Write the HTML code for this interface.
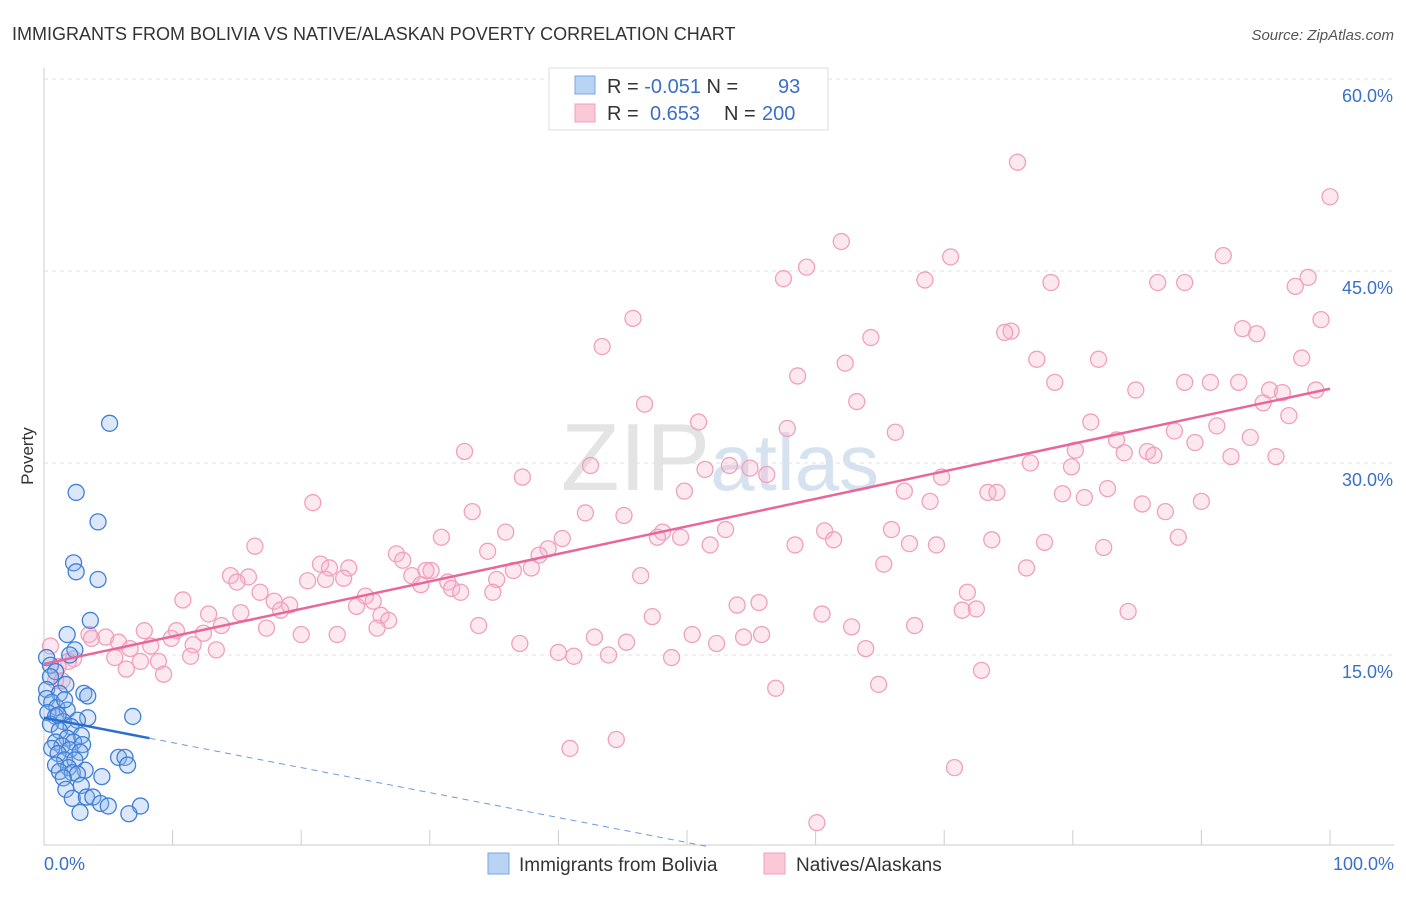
<!DOCTYPE html>
<html><head><meta charset="utf-8"><style>
body{margin:0;background:#fff;font-family:"Liberation Sans",sans-serif;}
svg text{font-family:"Liberation Sans",sans-serif;}
</style></head><body>
<svg id="c" width="1406" height="892" viewBox="0 0 1406 892">
<text x="12" y="40" font-size="18" fill="#333">IMMIGRANTS FROM BOLIVIA VS NATIVE/ALASKAN POVERTY CORRELATION CHART</text>
<text x="1394" y="40" font-size="15" fill="#555" font-style="italic" text-anchor="end">Source: ZipAtlas.com</text>
<text x="720" y="490" font-size="96" fill="#e4e4e4" text-anchor="middle" font-family="Liberation Serif">ZIP<tspan fill="#d6e2f0" font-family="Liberation Sans" font-size="80">atlas</tspan></text>
<text x="33" y="456" font-size="17" fill="#333" text-anchor="middle" transform="rotate(-90 33 456)">Poverty</text>
<g id="grid"></g><g id="pts"></g><g id="trend"></g>
<g>
<rect x="549" y="68" width="279" height="62" fill="#fff" stroke="#ddd"/>
<rect x="575" y="76" width="20" height="18" fill="#b8d3f3" stroke="#7aa6e0"/>
<rect x="575" y="104" width="20" height="18" fill="#fbc8d8" stroke="#f0a0b8"/>
<text x="607" y="93" font-size="20" fill="#333">R = <tspan fill="#3a70c8">-0.051</tspan>   N = <tspan fill="#3a70c8" x="778">93</tspan></text>
<text x="607" y="120" font-size="20" fill="#333">R = <tspan fill="#3a70c8" x="650">0.653</tspan> <tspan x="724">N =</tspan> <tspan fill="#3a70c8" x="762">200</tspan></text>
</g>
<g>
<rect x="488" y="853" width="21" height="21" fill="#b8d3f3" stroke="#7aa6e0"/>
<text x="519" y="871" font-size="19" fill="#333">Immigrants from Bolivia</text>
<rect x="764" y="853" width="21" height="21" fill="#fbc8d8" stroke="#f0a0b8"/>
<text x="796" y="871" font-size="19" fill="#333">Natives/Alaskans</text>
</g>
</svg>
<script>
const yTicks=[15,30,45,60];
const yTickLabels=["15.0%","30.0%","45.0%","60.0%"];
const xTickLabels=["0.0%","100.0%"];
const pinkX=[75.7,100,62,91.7,70.5,59.3,57.5,68.5,78.3,86.6,88.7,98.3,97.3,45.8,99.3,75.2,74.7,93.2,94.3,64.3,43.4,77.2,82,97.8,62.3,58.6,78.6,88.7,90.7,92.9,84.9,95.3,96.3,98.9,94.8,63.2,46.7,96.8,50.9,81.4,91.2,57.8,66.2,87.9,93.8,83.4,89.5,80.2,84,85.8,86.3,32.7,92.3,95.8,76.7,79.9,42.5,53.3,51.4,54.9,56.2,37.2,69.8,49.8,66.9,73.4,74.1,79.2,80.9,82.7,68.9,20.9,90,85.4,87.2,33.3,42.1,45.1,53,65.9,60.7,48.1,35.9,30.9,61.4,49.5,88.2,47.7,73.7,77.8,40.3,67.3,69.4,58.4,51.8,82.4,16.4,39.2,27.4,34.5,38.5,27.9,21.5,65.3,23.7,76.4,30.1,29.7,22.2,37.9,36.5,14.5,28.6,23.3,21.9,46.4,15.9,15,31.4,35.2,29.3,20.5,31.7,32.4,71.8,16.8,34.9,25,25.6,10.8,17.9,53.9,55.6,19.1,24.3,18.4,71.4,72.5,84.3,12.8,26.2,15.3,47.3,60.5,26.8,13.8,33.8,62.8,67.7,17.3,25.9,7.8,10.3,12.4,20,22.8,50.4,42.8,55.8,54.4,3.5,3.7,4.8,5.8,9.9,37,45.3,52.3,11.6,8.3,6.7,13.4,63.9,40,11.4,43.9,41.2,48.8,5.5,7.5,2.3,1.9,8.9,6.4,1.1,9.3,72.9,0.9,64.9,56.9,44.5,40.9,70.8,60.1,0.5,1.4];
const pinkY=[53.5,50.8,47.3,46.2,46.1,45.3,44.4,44.3,44.1,44.1,44.1,44.5,43.8,41.3,41.2,40.3,40.2,40.5,40.1,39.8,39.1,38.1,38.1,38.2,37.8,36.8,36.3,36.3,36.3,36.3,35.7,35.7,35.5,35.7,34.7,34.8,34.6,33.7,33.2,33.2,32.9,32.7,32.4,32.5,32,31.8,31.6,31,30.8,30.9,30.6,30.9,30.5,30.5,30,29.7,29.8,29.8,29.5,29.6,29.1,28.9,28.9,27.8,27.8,27.7,27.7,27.6,27.3,28,27,26.9,27,26.8,26.2,26.2,26.1,25.9,24.8,24.8,24.7,24.6,24.6,24.2,24,24.2,24.2,24.2,24,23.8,24.1,23.7,23.6,23.6,23.6,23.4,23.5,23.3,22.9,23.1,22.8,22.4,22.1,22.1,21.8,21.8,21.6,21.6,21.8,21.8,21.6,21.2,21.2,21,20.9,21.2,21.1,20.7,20.7,20.9,20.5,20.8,20.2,19.9,19.9,19.9,19.9,19.6,19.2,19.3,19.2,18.9,19.1,18.9,18.8,18.5,18.5,18.6,18.4,18.2,18.1,18.3,18,18.2,17.7,17.3,17.3,17.2,17.3,17.1,17.1,16.9,16.9,16.7,16.6,16.6,16.6,16.4,16.6,16.4,16.6,16.3,16.4,16,16.3,15.9,16,15.9,15.8,15.7,15.5,15.4,15.5,15.2,14.9,15,14.9,14.8,14.8,14.5,14.7,14.5,14.5,13.9,14.1,13.5,13.8,13,12.7,12.4,8.4,7.7,6.2,1.9,15.7,13];
const blueX=[5.1,2.5,4.2,2.3,2.5,4.2,3.6,1.8,2.4,2,0.2,0.5,0.9,1.7,0.5,0.2,1.2,3.1,3.4,0.2,0.6,1,1.8,0.3,0.9,6.9,3.4,2.6,1.5,0.5,2.1,1.2,2.9,1.8,0.9,2.3,1.4,3,0.6,2,1.1,2.8,5.8,6.3,1.6,2.4,0.9,6.5,1.9,3.2,1.2,2.2,2.6,4.5,1.5,2.9,1.7,2.2,3.3,3.8,4.4,5,7.5,2.8,6.6,1.1,1.6];
const blueY=[33.1,27.7,25.4,22.2,21.5,20.9,17.7,16.6,15.4,15,14.8,14.2,13.7,12.7,13.3,12.3,12,12,11.8,11.6,11.3,10.9,10.7,10.5,10.2,10.2,10.1,9.9,9.8,9.6,9.4,9.1,8.7,8.5,8.2,8.2,7.9,8,7.7,7.6,7.3,7.4,7,7,6.8,6.8,6.4,6.4,6.2,6,5.9,5.8,5.7,5.5,5.4,4.8,4.5,3.8,3.9,3.9,3.4,3.2,3.2,2.7,2.6,10.3,11.5];
const pinkTrend=[14.3,0.215];
const blueTrend=[10.1,-0.195];
const X=v=>44+v*12.86, Y=v=>847-v*12.8;
const NS="http://www.w3.org/2000/svg";
function mk(t,a,p){const e=document.createElementNS(NS,t);for(const k in a)e.setAttribute(k,a[k]);p.appendChild(e);return e;}
const g=document.getElementById('grid');
yTicks.forEach((t,i)=>{
 const l=mk('line',{x1:44,x2:1394,y1:Y(t),y2:Y(t),stroke:'#e2e2e2','stroke-dasharray':'4,4'},g);
 
 
 const tx=mk('text',{x:1393,y:Y(t)+23,'font-size':18,fill:'#3a70c8','text-anchor':'end'},g);
 tx.textContent=yTickLabels[i];
 
 
});
mk('line',{x1:44,x2:44,y1:68,y2:845,stroke:'#ccc'},g);
mk('line',{x1:44,x2:1394,y1:845,y2:845,stroke:'#ccc'},g);
for(let i=0;i<=10;i++){mk('line',{x1:X(i*10),x2:X(i*10),y1:830,y2:845,stroke:'#ccc'},g);}
xTickLabels.forEach((s,i)=>{
 const tx=mk('text',{x:i?1394:44,y:870,'font-size':18,fill:'#3a70c8','text-anchor':i?'end':'start'},g);
 tx.textContent=s;
 
 
});
const p=document.getElementById('pts');
pinkX.forEach((x,i)=>{const c=mk('circle',{cx:X(x),cy:Y(pinkY[i]),r:8,fill:'rgba(248,180,204,0.3)',stroke:'#f0a0bc','stroke-width':1.3},p);
 
 });
blueX.forEach((x,i)=>{const c=mk('circle',{cx:X(x),cy:Y(blueY[i]),r:8,fill:'rgba(140,180,235,0.3)',stroke:'#3f7fd6','stroke-width':1.3},p);
 
 });
const tr=document.getElementById('trend');
let l=mk('line',{x1:X(0),y1:Y(pinkTrend[0]),x2:X(100),y2:Y(pinkTrend[0]+pinkTrend[1]*100),stroke:'#e8679a','stroke-width':2.5},tr);


l=mk('line',{x1:X(0),y1:Y(blueTrend[0]),x2:X(8.2),y2:Y(blueTrend[0]+blueTrend[1]*8.2),stroke:'#2a6fd0','stroke-width':2.5},tr);


const xe=-blueTrend[0]/blueTrend[1];
l=mk('line',{x1:X(8.2),y1:Y(blueTrend[0]+blueTrend[1]*8.2),x2:X(xe),y2:Y(0),stroke:'#6f9ad8','stroke-width':1,'stroke-dasharray':'6,5'},tr);


</script>
</body></html>
